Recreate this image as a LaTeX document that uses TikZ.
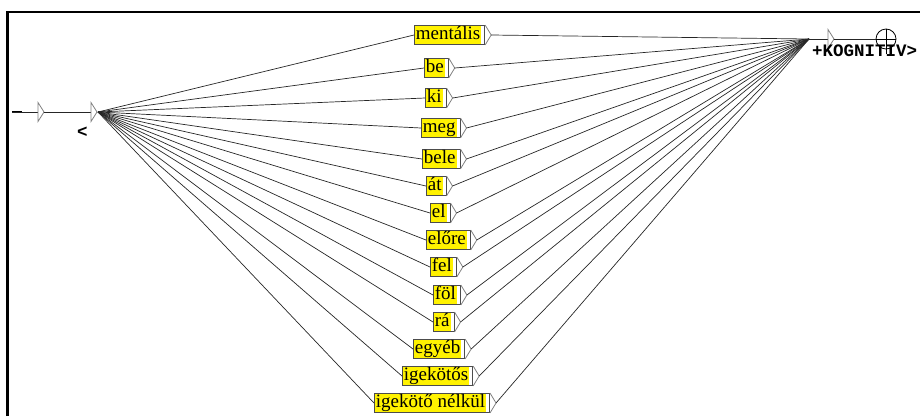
\documentclass[tikz,border=0pt]{standalone}
\usepackage{fontspec}
\setmainfont{Liberation Serif}
\newfontfamily\outfont{Liberation Mono}
\tikzset{
  word/.style={anchor=west, fill=yellow, draw=black!70, line width=0.8pt,
    inner xsep=1.5pt, inner ysep=0pt, text height=14pt, text depth=5pt,
    font=\fontsize{19}{21}\selectfont, execute at end node=\hspace{3pt},
    path picture={\fill[white] ([xshift=-3.5pt]path picture bounding box.north east)
      rectangle (path picture bounding box.south east);}},
  outtip/.style={draw=black!50, line width=0.8pt},
  link/.style={draw=black!85, line width=0.7pt},
  statetip/.style={draw=black!50, line width=0.8pt},
  output/.style={font=\outfont\bfseries\fontsize{17.5}{20}\selectfont, inner sep=0pt}
}
\begin{document}
\begin{tikzpicture}[x=1pt,y=-1pt]
\useasboundingbox (0,0) rectangle (920,416);
% frame
\draw[line width=2.5pt] (7.5,416) -- (7.5,12) -- (920,12);
% initial part
\coordinate (start) at (12,112);
\coordinate (tri1) at (38,112);
\coordinate (tri2) at (91,112);
\coordinate (fanL) at (98,112);
\draw[line width=2.5pt] (start) -- ++(10,0);
\draw[link] (start) -- (tri1);
\draw[statetip] (38,102.5) -- (44,112) -- (38,121.5) -- cycle;
\draw[link] ([xshift=6]tri1) -- (tri2);
\draw[statetip] (91,102.5) -- (97,112) -- (91,121.5) -- cycle;
\node[output, anchor=base west] (lt) at (77,137) {<};
% final part
\coordinate (fanR) at (809,39);
\coordinate (tri3) at (828,39);
\node[circle, draw=black, line width=0.8pt, minimum size=20pt, inner sep=0pt] (fin) at (886,39) {};
\draw[link] (fanR) -- (tri3);
\draw[statetip] (828,29.5) -- (834,39) -- (828,48.5) -- cycle;
\draw[link] ([xshift=6]tri3) -- (fin.west);
\draw[line width=0.8pt] (fin.west) -- (fin.east);
\draw[line width=0.8pt] (fin.north) -- ([yshift=-15]fin.center);
\node[output, anchor=base west] (kog) at (812,56) {+KOGNITIV>};
% boxes
\node[word] (ment) at (414,35) {mentális};
\node[word] (be) at (424,68) {be};
\node[word] (ki) at (425,98) {ki};
\node[word] (meg) at (421,128) {meg};
\node[word] (bele) at (422,159) {bele};
\node[word] (at) at (426,186) {át};
\node[word] (el) at (430,213) {el};
\node[word] (elore) at (426,240) {előre};
\node[word] (fel) at (430,267) {fel};
\node[word] (fol) at (433,295) {föl};
\node[word] (ra) at (433,322) {rá};
\node[word] (egyeb) at (413,349) {egyéb};
\node[word] (igek) at (402,376) {igekötős};
\node[word] (nelk) at (374,403) {igekötő nélkül};
% box tips
\draw[outtip] (ment.north east) -- ([xshift=6]ment.east) -- (ment.south east);
\draw[outtip] (be.north east) -- ([xshift=6]be.east) -- (be.south east);
\draw[outtip] (ki.north east) -- ([xshift=6]ki.east) -- (ki.south east);
\draw[outtip] (meg.north east) -- ([xshift=6]meg.east) -- (meg.south east);
\draw[outtip] (bele.north east) -- ([xshift=6]bele.east) -- (bele.south east);
\draw[outtip] (at.north east) -- ([xshift=6]at.east) -- (at.south east);
\draw[outtip] (el.north east) -- ([xshift=6]el.east) -- (el.south east);
\draw[outtip] (elore.north east) -- ([xshift=6]elore.east) -- (elore.south east);
\draw[outtip] (fel.north east) -- ([xshift=6]fel.east) -- (fel.south east);
\draw[outtip] (fol.north east) -- ([xshift=6]fol.east) -- (fol.south east);
\draw[outtip] (ra.north east) -- ([xshift=6]ra.east) -- (ra.south east);
\draw[outtip] (egyeb.north east) -- ([xshift=6]egyeb.east) -- (egyeb.south east);
\draw[outtip] (igek.north east) -- ([xshift=6]igek.east) -- (igek.south east);
\draw[outtip] (nelk.north east) -- ([xshift=6]nelk.east) -- (nelk.south east);
% links in
\draw[link] (fanL) -- (ment.west);
\draw[link] (fanL) -- (be.west);
\draw[link] (fanL) -- (ki.west);
\draw[link] (fanL) -- (meg.west);
\draw[link] (fanL) -- (bele.west);
\draw[link] (fanL) -- (at.west);
\draw[link] (fanL) -- (el.west);
\draw[link] (fanL) -- (elore.west);
\draw[link] (fanL) -- (fel.west);
\draw[link] (fanL) -- (fol.west);
\draw[link] (fanL) -- (ra.west);
\draw[link] (fanL) -- (egyeb.west);
\draw[link] (fanL) -- (igek.west);
\draw[link] (fanL) -- (nelk.west);
% links out
\draw[link] ([xshift=6]ment.east) -- (fanR);
\draw[link] ([xshift=6]be.east) -- (fanR);
\draw[link] ([xshift=6]ki.east) -- (fanR);
\draw[link] ([xshift=6]meg.east) -- (fanR);
\draw[link] ([xshift=6]bele.east) -- (fanR);
\draw[link] ([xshift=6]at.east) -- (fanR);
\draw[link] ([xshift=6]el.east) -- (fanR);
\draw[link] ([xshift=6]elore.east) -- (fanR);
\draw[link] ([xshift=6]fel.east) -- (fanR);
\draw[link] ([xshift=6]fol.east) -- (fanR);
\draw[link] ([xshift=6]ra.east) -- (fanR);
\draw[link] ([xshift=6]egyeb.east) -- (fanR);
\draw[link] ([xshift=6]igek.east) -- (fanR);
\draw[link] ([xshift=6]nelk.east) -- (fanR);
\end{tikzpicture}
\end{document}
